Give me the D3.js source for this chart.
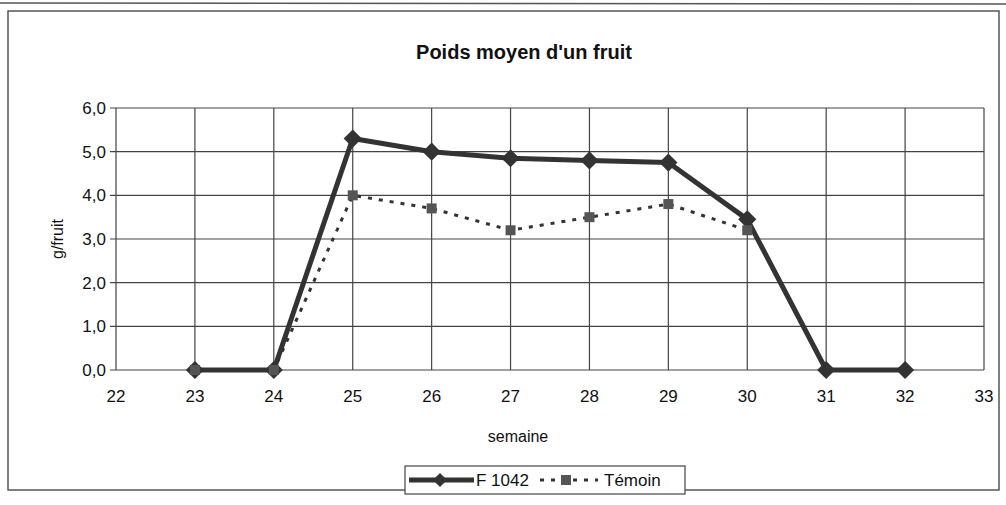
<!DOCTYPE html>
<html lang="fr">
  <head>
    <meta charset="utf-8">
    <title>Poids moyen d'un fruit</title>
    <script src="https://cdn.jsdelivr.net/npm/d3@7"></script>
    <style>
      body { margin: 0; background: #fff; }
      text { font-family: Arial, "Liberation Sans", sans-serif; fill: #111; }
    </style>
  </head>
  <body>
    <script>
      var w = 1006;
      var h = 505;

      var semaines = [23, 24, 25, 26, 27, 28, 29, 30, 31, 32];
      var f1042 = [0, 0, 5.3, 5.0, 4.85, 4.8, 4.75, 3.45, 0, 0];
      var temoin = [0, 0, 4.0, 3.7, 3.2, 3.5, 3.8, 3.2, null, null];
      var xTicks = [22, 23, 24, 25, 26, 27, 28, 29, 30, 31, 32, 33];
      var yTicks = [0, 1, 2, 3, 4, 5, 6];

      var plotLeft = 116, plotRight = 984, plotTop = 108, plotBottom = 370;

      var xScale = d3.scaleLinear().domain([22, 33]).range([plotLeft, plotRight]);
      var yScale = d3.scaleLinear().domain([0, 6]).range([plotBottom, plotTop]);
      var fmt = function (d) { return d3.format(".1f")(d).replace(".", ","); };

      var svg = d3.select("body").append("svg")
                  .attr("width", w)
                  .attr("height", h);

      // frame
      svg.append("line").attr("x1", 0).attr("x2", w).attr("y1", 3).attr("y2", 4)
         .attr("stroke", "#555").attr("stroke-width", 1.5);
      svg.append("rect").attr("x", 8).attr("y", 11).attr("width", 991).attr("height", 479)
         .attr("fill", "none").attr("stroke", "#555").attr("stroke-width", 1.5);

      svg.append("text").attr("x", 524).attr("y", 59)
         .attr("text-anchor", "middle").attr("font-size", 20).attr("font-weight", "bold")
         .text("Poids moyen d'un fruit");

      // grid
      svg.append("g").selectAll("line").data(yTicks).enter().append("line")
         .attr("x1", plotLeft - 6).attr("x2", plotRight)
         .attr("y1", function (d) { return yScale(d); })
         .attr("y2", function (d) { return yScale(d); })
         .attr("stroke", "#444").attr("stroke-width", 1.2);
      svg.append("g").selectAll("line").data(xTicks).enter().append("line")
         .attr("x1", function (d) { return xScale(d); })
         .attr("x2", function (d) { return xScale(d); })
         .attr("y1", plotTop).attr("y2", plotBottom)
         .attr("stroke", "#444").attr("stroke-width", 1.2);

      // tick labels
      svg.append("g").selectAll("text").data(yTicks).enter().append("text")
         .attr("x", plotLeft - 10)
         .attr("y", function (d) { return yScale(d) + 6; })
         .attr("text-anchor", "end").attr("font-size", 17)
         .text(fmt);
      svg.append("g").selectAll("text").data(xTicks).enter().append("text")
         .attr("x", function (d) { return xScale(d); })
         .attr("y", 402)
         .attr("text-anchor", "middle").attr("font-size", 17)
         .text(function (d) { return d; });

      svg.append("text").attr("transform", "translate(63," + ((plotTop + plotBottom) / 2) + ") rotate(-90)")
         .attr("text-anchor", "middle").attr("font-size", 16)
         .text("g/fruit");
      svg.append("text").attr("x", 518).attr("y", 442)
         .attr("text-anchor", "middle").attr("font-size", 16)
         .text("semaine");

      var line = d3.line()
                   .defined(function (d) { return d !== null; })
                   .x(function (d, i) { return xScale(semaines[i]); })
                   .y(function (d) { return yScale(d); });

      // diamond = square turned 45 degrees
      var diamond = d3.symbol().type(d3.symbolSquare).size(165);

      // F 1042
      svg.append("path").datum(f1042).attr("d", line)
         .attr("fill", "none").attr("stroke", "#333").attr("stroke-width", 5)
         .attr("stroke-linejoin", "round");
      svg.append("g").selectAll("path").data(f1042).enter().append("path")
         .attr("d", diamond)
         .attr("transform", function (d, i) { return "translate(" + xScale(semaines[i]) + "," + yScale(d) + ") rotate(45)"; })
         .attr("fill", "#333");

      // Témoin
      svg.append("path").datum(temoin).attr("d", line)
         .attr("fill", "none").attr("stroke", "#333").attr("stroke-width", 3)
         .attr("stroke-dasharray", "4,7");
      svg.append("g").selectAll("rect").data(temoin.filter(function (d) { return d !== null; })).enter().append("rect")
         .attr("x", function (d, i) { return xScale(semaines[i]) - 5; })
         .attr("y", function (d) { return yScale(d) - 5; })
         .attr("width", 10).attr("height", 10)
         .attr("fill", "#555");

      // legend
      var lg = svg.append("g");
      lg.append("rect").attr("x", 405).attr("y", 466).attr("width", 280).attr("height", 28)
        .attr("fill", "#fff").attr("stroke", "#444").attr("stroke-width", 1.2);
      lg.append("line").attr("x1", 409).attr("x2", 474).attr("y1", 480).attr("y2", 480)
        .attr("stroke", "#333").attr("stroke-width", 5);
      lg.append("path").attr("d", d3.symbol().type(d3.symbolSquare).size(100))
        .attr("transform", "translate(440,480) rotate(45)").attr("fill", "#333");
      lg.append("text").attr("x", 476).attr("y", 486).attr("font-size", 17).text("F 1042");
      lg.append("line").attr("x1", 540).attr("x2", 598).attr("y1", 480).attr("y2", 480)
        .attr("stroke", "#333").attr("stroke-width", 3).attr("stroke-dasharray", "4,7");
      lg.append("rect").attr("x", 561).attr("y", 475).attr("width", 10).attr("height", 10)
        .attr("fill", "#555");
      lg.append("text").attr("x", 604).attr("y", 486).attr("font-size", 17).text("Témoin");
    </script>
  </body>
</html>
